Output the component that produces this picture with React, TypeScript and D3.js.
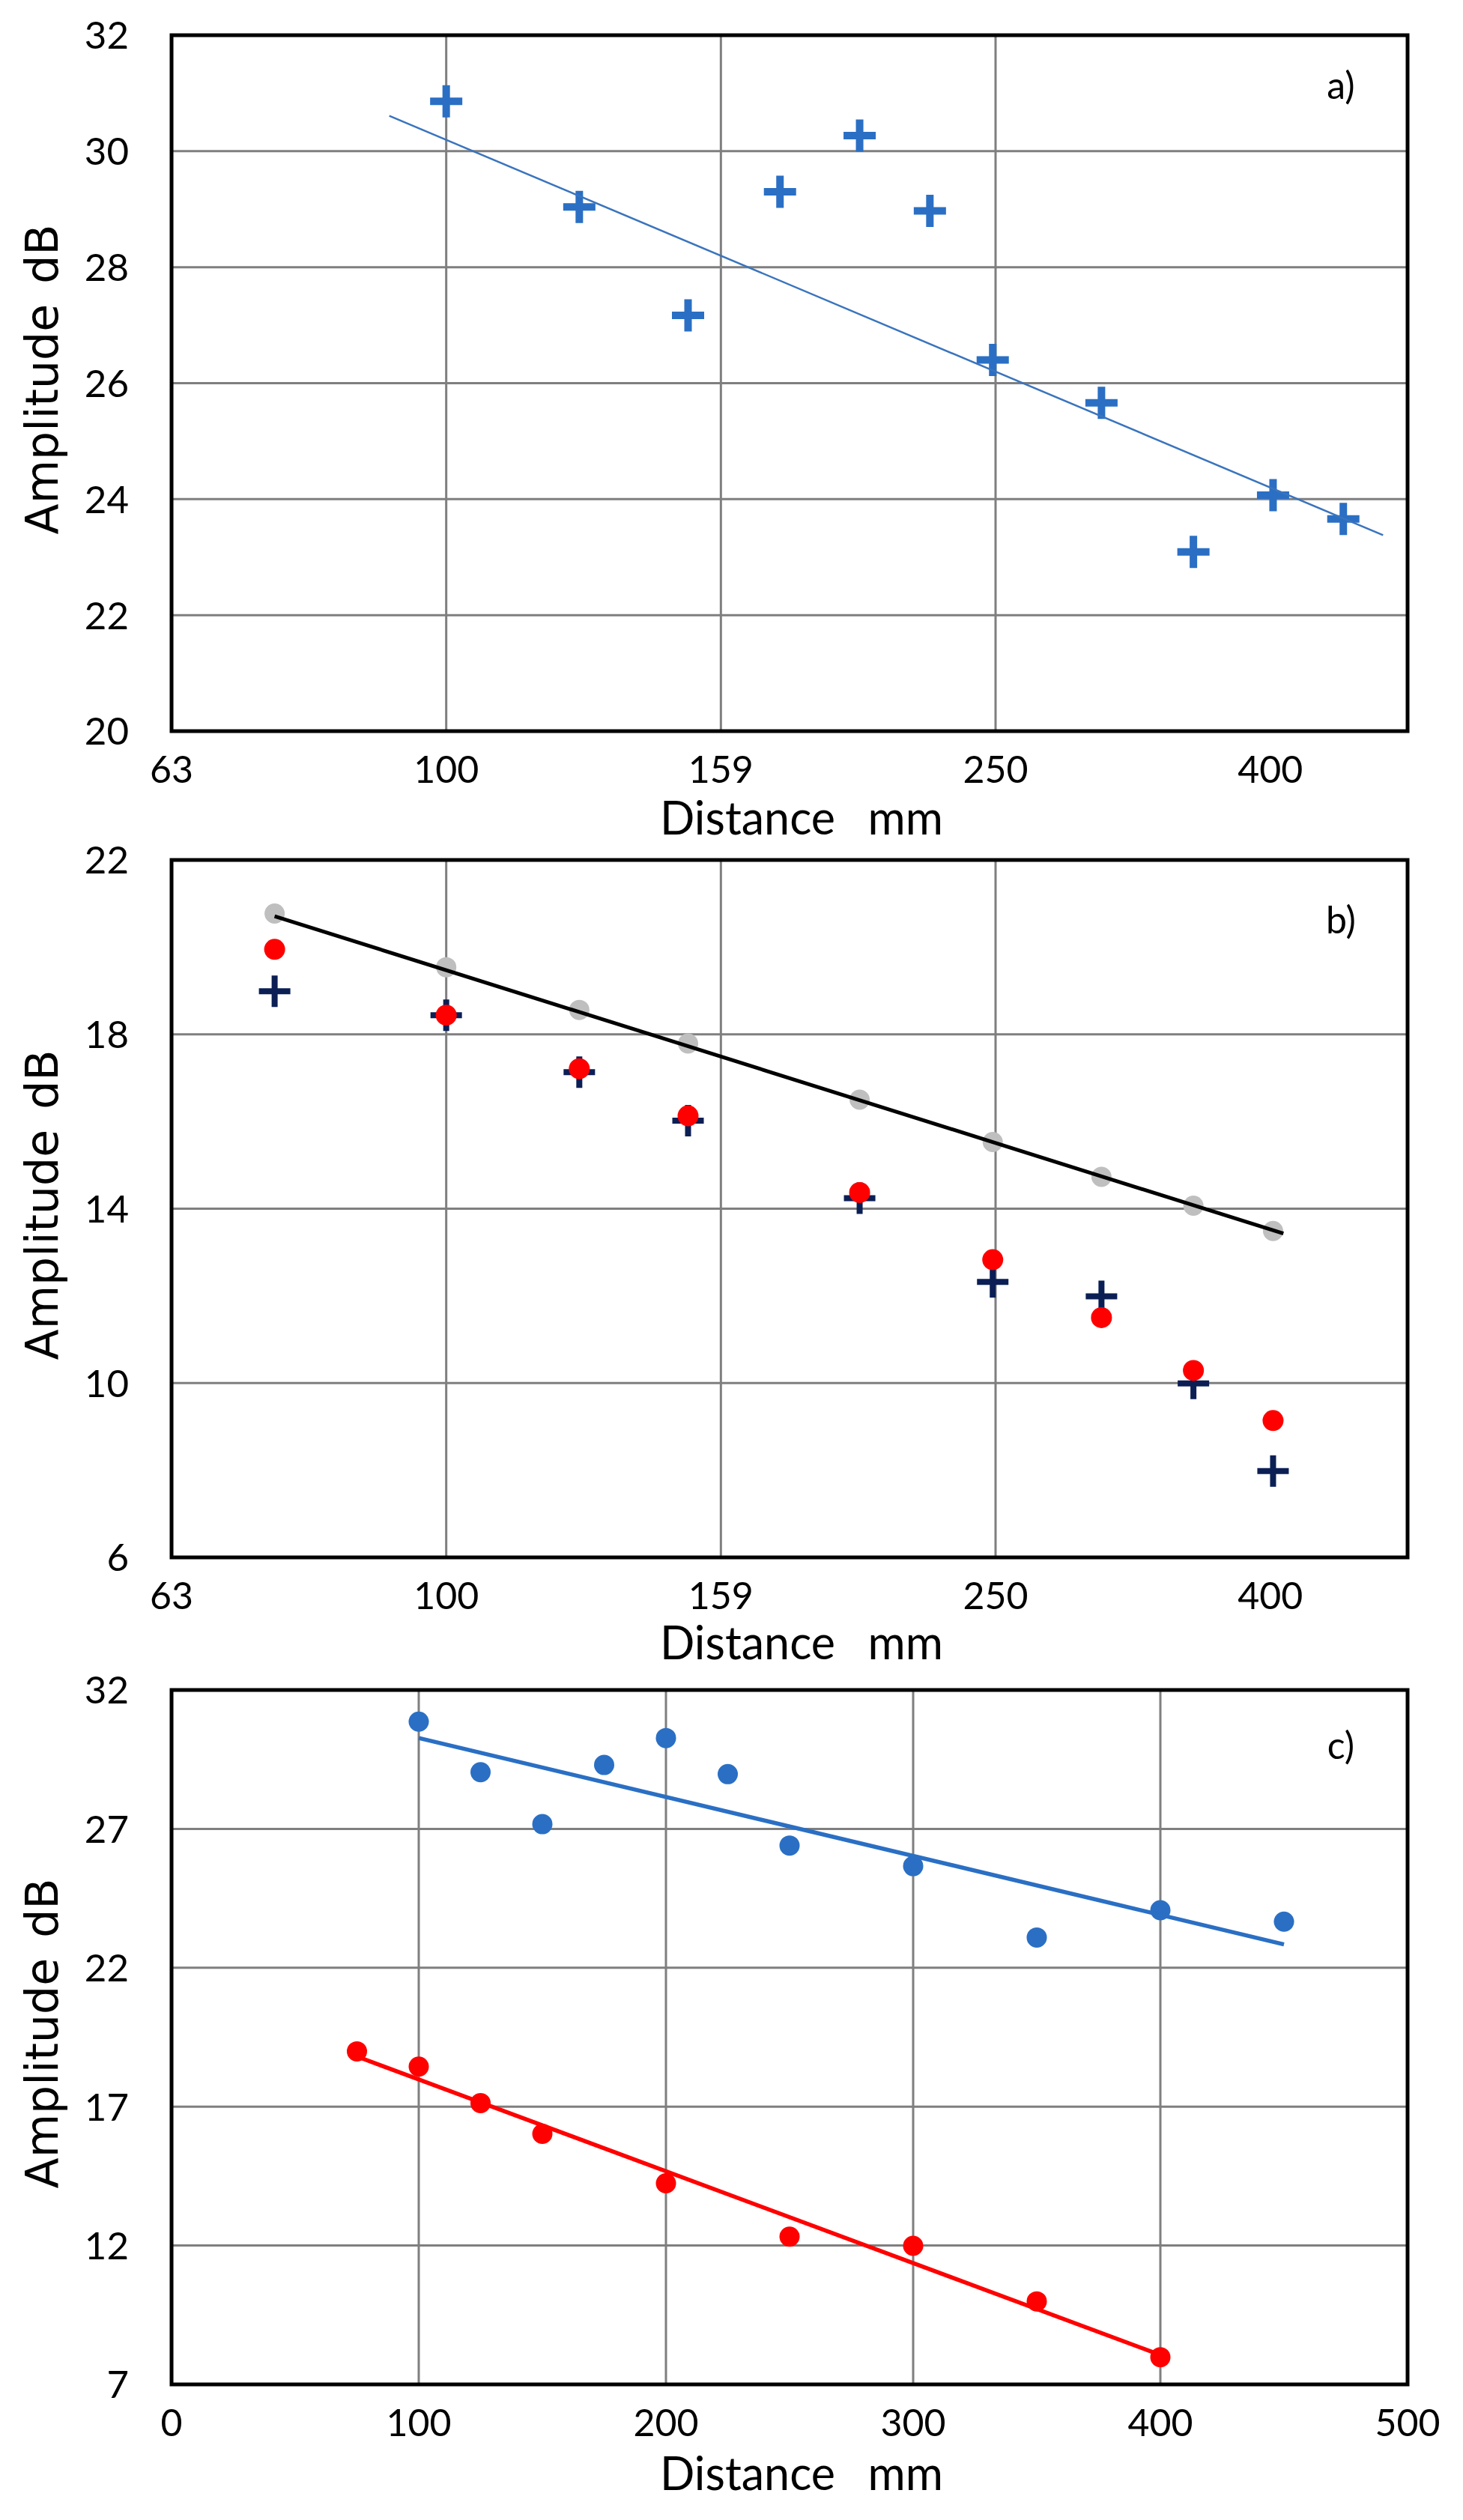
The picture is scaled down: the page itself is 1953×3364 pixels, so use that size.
import React from 'react';
import * as d3 from 'd3';

// ---------- data ----------
const distA = [100, 125, 150, 175, 200, 225, 250, 300, 350, 400, 450];
const ampA = [30.86, 29.04, 27.17, 29.3, 30.27, 28.97, 26.4, 25.66, 23.09, 24.07, 23.66];
const trendAx = [90.9, 481];
const trendAy = [30.61, 23.38];

const distB = [75, 100, 125, 150, 200, 250, 300, 350, 400];
const ampBGray = [20.77, 19.54, 18.56, 17.79, 16.5, 15.53, 14.73, 14.07, 13.49];
const ampBRed = [19.95, 18.44, 17.21, 16.13, 14.37, 12.83, 11.5, 10.29, 9.14];
const ampBCross = [18.99, 18.44, 17.13, 16.02, 14.24, 12.32, 11.99, 9.99, 7.98];
const trendBx = [75, 407];
const trendBy = [20.71, 13.43];

const distCBlue = [100, 125, 150, 175, 200, 225, 250, 300, 350, 400, 450];
const ampCBlue = [30.86, 29.04, 27.17, 29.3, 30.27, 28.97, 26.4, 25.66, 23.09, 24.07, 23.66];
const distCRed = [75, 100, 125, 150, 200, 250, 300, 350, 400];
const ampCRed = [18.99, 18.44, 17.13, 16.02, 14.24, 12.32, 11.99, 9.99, 7.98];

const logTickExp = [1.8, 2.0, 2.2, 2.4, 2.6];
const logTickLabels = ['63', '100', '159', '250', '400'];
const logDomainExp = [1.8, 2.7];
const linTicksC = [0, 100, 200, 300, 400, 500];
const yTicksA = [20, 22, 24, 26, 28, 30, 32];
const yTicksB = [6, 10, 14, 18, 22];
const yTicksC = [7, 12, 17, 22, 27, 32];
const panelLabels = ['a)', 'b)', 'c)'];

// ---------- style ----------
const W = 1953;
const H = 3364;
const L = 229;
const R = 1879;
const GRID = '#7f7f7f';
const BLUE = '#2a6fc4';
const NAVY = '#0b1f55';
const RED = '#ff0000';
const GRAY = '#bfbfbf';
const TICK_FONT = 'Lato, "Open Sans", sans-serif';
const TITLE_FONT = '"DejaVu Sans", Verdana, sans-serif';

function fit(xs: number[], ys: number[]) {
  const mx = d3.mean(xs) as number;
  const my = d3.mean(ys) as number;
  let sxy = 0;
  let sxx = 0;
  xs.forEach((x, i) => {
    sxy += (x - mx) * (ys[i] - my);
    sxx += (x - mx) * (x - mx);
  });
  const b = sxy / sxx;
  const a = my - b * mx;
  const x0 = d3.min(xs) as number;
  const x1 = d3.max(xs) as number;
  return [
    [x0, a + b * x0],
    [x1, a + b * x1],
  ];
}

const Cross = ({ x, y, color, size, w }: any) => (
  <path
    d={`M${x - size / 2},${y}H${x + size / 2}M${x},${y - size / 2}V${y + size / 2}`}
    stroke={color}
    strokeWidth={w}
    fill="none"
  />
);

function Frame({ x, y, top, bottom, xTicks, xLabels, yTicks, label, labelDy, titleDy }: any) {
  const midY = (top + bottom) / 2;
  return (
    <g>
      {yTicks.slice(1, -1).map((t: number) => (
        <line key={'gy' + t} x1={L} x2={R} y1={y(t)} y2={y(t)} stroke={GRID} strokeWidth={3} />
      ))}
      {xTicks.slice(1, -1).map((t: number, i: number) => (
        <line key={'gx' + i} x1={x(t)} x2={x(t)} y1={top} y2={bottom} stroke={GRID} strokeWidth={3} />
      ))}
      <rect x={L} y={top} width={R - L} height={bottom - top} fill="none" stroke="#000" strokeWidth={5} />
      {yTicks.map((t: number) => (
        <text
          key={'yl' + t}
          x={172}
          y={y(t)}
          dy="0.36em"
          textAnchor="end"
          fontFamily={TICK_FONT}
          fontSize={51}
          fill="#000"
        >
          {t}
        </text>
      ))}
      {xTicks.map((t: number, i: number) => (
        <text
          key={'xl' + i}
          x={x(t)}
          y={bottom + 51}
          dy="0.36em"
          textAnchor="middle"
          fontFamily={TICK_FONT}
          fontSize={50}
          fill="#000"
        >
          {xLabels[i]}
        </text>
      ))}
      <text
        x={1070}
        y={bottom + titleDy}
        textAnchor="middle"
        fontFamily={TICK_FONT}
        fontSize={61}
        wordSpacing={28}
        fill="#000"
      >
        Distance mm
      </text>
      <text
        transform={`translate(77,${midY - 5}) rotate(-90)`}
        textAnchor="middle"
        fontFamily={TITLE_FONT}
        fontSize={60}
        wordSpacing={8}
        fill="#000"
      >
        Amplitude dB
      </text>
      <text
        x={1790}
        y={top + labelDy}
        dy="0.36em"
        textAnchor="middle"
        fontFamily={TICK_FONT}
        fontSize={50}
        fill="#000"
      >
        {label}
      </text>
    </g>
  );
}

export default function App() {
  const xLog = d3
    .scaleLog()
    .domain(logDomainExp.map((e) => Math.pow(10, e)))
    .range([L, R]);
  const logTicks = logTickExp.map((e) => Math.pow(10, e));
  const xLin = d3.scaleLinear().domain([0, 500]).range([L, R]);

  // panel a
  const topA = 47, botA = 976;
  const yA = d3.scaleLinear().domain([20, 32]).range([botA, topA]);
  // panel b
  const topB = 1148, botB = 2079;
  const yB = d3.scaleLinear().domain([6, 22]).range([botB, topB]);
  // panel c
  const topC = 2256, botC = 3183;
  const yC = d3.scaleLinear().domain([7, 32]).range([botC, topC]);

  const line = d3.line<number[]>();
  const trendA = trendAx.map((v, i) => [xLog(v), yA(trendAy[i])]);
  const trendB = trendBx.map((v, i) => [xLog(v), yB(trendBy[i])]);
  const fitBlue = fit(distCBlue, ampCBlue).map(([a, b]) => [xLin(a), yC(b)]);
  const fitRed = fit(distCRed, ampCRed).map(([a, b]) => [xLin(a), yC(b)]);

  return (
    <svg
      width={W}
      height={H}
      viewBox={`0 0 ${W} ${H}`}
      style={{ position: 'absolute', left: 0, top: 0, background: '#fff' }}
    >
      <rect width={W} height={H} fill="#fff" />
      {/* panel a */}
      <Frame
        x={xLog}
        y={yA}
        top={topA}
        bottom={botA}
        xTicks={logTicks}
        xLabels={logTickLabels}
        yTicks={yTicksA}
        label={panelLabels[0]}
        labelDy={67}
        titleDy={138}
      />
      {distA.map((d, i) => (
        <Cross key={'a' + i} x={xLog(d)} y={yA(ampA[i])} color={BLUE} size={43} w={10} />
      ))}
      <path d={line(trendA as any) as string} stroke="#3a74bd" strokeWidth={2.5} fill="none" />

      {/* panel b */}
      <Frame
        x={xLog}
        y={yB}
        top={topB}
        bottom={botB}
        xTicks={logTicks}
        xLabels={logTickLabels}
        yTicks={yTicksB}
        label={panelLabels[1]}
        labelDy={80}
        titleDy={136}
      />
      {distB.map((d, i) => (
        <circle key={'bg' + i} cx={xLog(d)} cy={yB(ampBGray[i])} r={13.5} fill={GRAY} />
      ))}
      {distB.map((d, i) => (
        <Cross key={'bc' + i} x={xLog(d)} y={yB(ampBCross[i])} color={NAVY} size={42} w={8} />
      ))}
      {distB.map((d, i) => (
        <circle key={'br' + i} cx={xLog(d)} cy={yB(ampBRed[i])} r={14} fill={RED} />
      ))}
      <path d={line(trendB as any) as string} stroke="#000" strokeWidth={5} fill="none" />

      {/* panel c */}
      <Frame
        x={xLin}
        y={yC}
        top={topC}
        bottom={botC}
        xTicks={linTicksC}
        xLabels={linTicksC.map(String)}
        yTicks={yTicksC}
        label={panelLabels[2]}
        labelDy={74}
        titleDy={141}
      />
      {distCBlue.map((d, i) => (
        <circle key={'cb' + i} cx={xLin(d)} cy={yC(ampCBlue[i])} r={13.5} fill={BLUE} />
      ))}
      {distCRed.map((d, i) => (
        <circle key={'cr' + i} cx={xLin(d)} cy={yC(ampCRed[i])} r={13.5} fill={RED} />
      ))}
      <path d={line(fitBlue as any) as string} stroke={BLUE} strokeWidth={5.5} fill="none" />
      <path d={line(fitRed as any) as string} stroke={RED} strokeWidth={5.5} fill="none" />
    </svg>
  );
}
